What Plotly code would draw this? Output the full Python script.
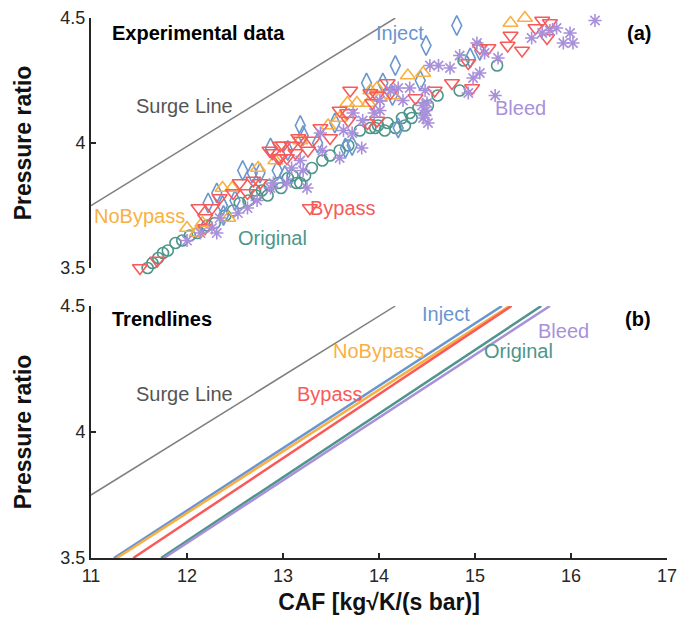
import plotly.graph_objects as go
from plotly.subplots import make_subplots

# ---------------- data ----------------
orig_x = [11.59, 11.64, 11.70, 11.75, 11.80, 11.88, 11.95, 12.03, 12.11, 12.21, 12.29, 12.40, 12.48, 12.55,
          12.64, 12.71, 12.72, 12.78, 12.84, 12.86, 12.95, 12.98, 13.05, 13.10, 13.14, 13.18, 13.23, 13.30,
          13.41, 13.49, 13.59, 13.68, 13.80, 13.91, 13.96, 13.99, 14.06, 14.09, 14.17, 14.24, 14.27, 14.32,
          14.34, 14.41, 14.51, 14.61, 14.84, 14.88, 15.23]
orig_y = [3.50, 3.52, 3.54, 3.56, 3.57, 3.60, 3.61, 3.63, 3.64, 3.67, 3.68, 3.71, 3.73, 3.76,
          3.77, 3.81, 3.79, 3.81, 3.79, 3.83, 3.84, 3.82, 3.86, 3.87, 3.84, 3.84, 3.87, 3.90,
          3.93, 3.95, 3.97, 3.99, 4.05, 4.06, 4.06, 4.07, 4.05, 4.08, 4.06, 4.10, 4.07, 4.12,
          4.10, 4.14, 4.15, 4.19, 4.21, 4.33, 4.31]

inject_x = [12.22, 12.31, 12.37, 12.38, 12.50, 12.58, 12.68, 12.76, 12.87, 12.94, 13.02, 13.05, 13.18, 13.21,
            13.36, 13.54, 13.65, 13.72, 13.87, 14.04, 14.14, 14.17, 14.20, 14.43, 14.49, 14.81, 14.95, 15.05]
inject_y = [3.76, 3.80, 3.75, 3.71, 3.77, 3.89, 3.88, 3.88, 3.98, 3.89, 3.87, 3.97, 4.07, 4.03,
            4.00, 4.08, 3.98, 3.99, 4.24, 4.24, 4.19, 4.31, 4.06, 4.25, 4.39, 4.47, 4.34, 4.37]

nobypass_x = [12.00, 12.10, 12.16, 12.37, 12.43, 12.47, 12.74, 12.92, 13.18, 13.47, 13.59, 13.67, 13.77,
              13.89, 13.91, 13.98, 14.01, 14.15, 14.30, 14.46, 15.37, 15.52]
nobypass_y = [3.66, 3.64, 3.68, 3.82, 3.70, 3.82, 3.90, 3.93, 4.01, 4.07, 4.10, 4.16, 4.16,
              4.16, 4.21, 4.22, 4.18, 4.19, 4.27, 4.28, 4.48, 4.50]

bypass_x = [11.51, 11.69, 12.12, 12.19, 12.19, 12.26, 12.34, 12.48, 12.55, 12.63, 12.69, 12.76, 12.86, 12.89,
            12.97, 12.97, 12.95, 13.00, 13.04, 13.09, 13.13, 13.16, 13.18, 13.26, 13.28, 13.31, 13.39, 13.49,
            13.59, 13.67, 13.68, 13.70, 13.88, 13.91, 13.93, 13.98, 13.98, 14.09, 14.12, 14.38, 14.58, 14.76,
            14.93, 14.97, 15.05, 15.14, 15.34, 15.37, 15.49, 15.63, 15.70, 15.75, 15.78]
bypass_y = [3.50, 3.53, 3.74, 3.70, 3.66, 3.74, 3.78, 3.80, 3.84, 3.80, 3.85, 3.84, 3.97, 3.96,
            3.99, 3.94, 3.94, 3.99, 3.94, 3.99, 3.96, 4.02, 4.01, 3.97, 3.74, 4.01, 4.06, 4.02,
            4.13, 4.12, 4.09, 4.21, 4.08, 4.20, 4.16, 4.19, 4.09, 4.24, 4.20, 4.18, 4.21, 4.24,
            4.32, 4.22, 4.38, 4.38, 4.39, 4.43, 4.37, 4.46, 4.49, 4.42, 4.48]

bleed_x = [12.00, 12.14, 12.26, 12.31, 12.34, 12.53, 12.63, 12.73, 12.87, 12.90, 13.04, 13.09, 13.18, 13.21,
           13.25, 13.39, 13.41, 13.59, 13.63, 13.72, 13.73, 13.82, 13.83, 13.95, 14.01, 14.01, 14.12, 14.20,
           14.25, 14.32, 14.45, 14.46, 14.48, 14.48, 14.49, 14.50, 14.51, 14.53, 14.62, 14.74, 14.84, 14.93,
           14.98, 15.02, 15.05, 15.10, 15.21, 15.24, 15.59, 15.70, 15.78, 15.85, 15.92, 15.99, 16.02, 16.25]
bleed_y = [3.61, 3.64, 3.66, 3.64, 3.70, 3.72, 3.74, 3.77, 3.82, 3.84, 3.84, 3.90, 3.93, 3.89,
           3.82, 4.04, 3.97, 3.94, 4.05, 4.04, 4.12, 3.98, 4.09, 4.12, 4.13, 4.17, 4.21, 4.22,
           4.17, 4.22, 4.15, 4.10, 4.21, 4.11, 4.13, 4.16, 4.08, 4.31, 4.31, 4.30, 4.35, 4.20,
           4.26, 4.40, 4.28, 4.36, 4.19, 4.34, 4.42, 4.44, 4.45, 4.46, 4.40, 4.44, 4.40, 4.49]

# trendlines (endpoints at PR = 3.5 and 4.5)
trend_names = ["Inject", "NoBypass", "Bypass", "Original", "Bleed"]
trend_x0 = [11.24, 11.27, 11.44, 11.73, 11.76]
trend_x1 = [15.28, 15.36, 15.38, 15.69, 15.78]
trend_y = [3.5, 4.5]

surge_x = [11.0, 14.17]
surge_y = [3.75, 4.5]

colors = {
    "Inject": "#6a96cf",
    "NoBypass": "#f9b042",
    "Bypass": "#f85a5a",
    "Original": "#4e958b",
    "Bleed": "#a990da",
}

# ---------------- figure ----------------
fig = make_subplots(rows=2, cols=1, shared_xaxes=False, vertical_spacing=0.07)

def sc(x, y, name, symbol, size=10):
    return go.Scatter(x=x, y=y, mode="markers", name=name, showlegend=False, cliponaxis=False,
                      marker=dict(symbol=symbol, size=size, color=colors[name],
                                  line=dict(color=colors[name], width=1.6)))

fig.add_trace(go.Scatter(x=surge_x, y=surge_y, mode="lines", showlegend=False,
                         line=dict(color="#808080", width=1.5)), row=1, col=1)
fig.add_trace(sc(orig_x, orig_y, "Original", "circle-open", 11), row=1, col=1)
fig.add_trace(sc(inject_x, inject_y, "Inject", "diamond-tall-open", 14), row=1, col=1)
fig.add_trace(sc(nobypass_x, nobypass_y, "NoBypass", "triangle-up-open", 13), row=1, col=1)
fig.add_trace(sc(bypass_x, bypass_y, "Bypass", "triangle-down-open", 13), row=1, col=1)
fig.add_trace(sc(bleed_x, bleed_y, "Bleed", "asterisk-open", 11), row=1, col=1)

fig.add_trace(go.Scatter(x=surge_x, y=surge_y, mode="lines", showlegend=False,
                         line=dict(color="#808080", width=1.5)), row=2, col=1)
for nm, a, b in zip(trend_names, trend_x0, trend_x1):
    fig.add_trace(go.Scatter(x=[a, b], y=trend_y, mode="lines", showlegend=False,
                             line=dict(color=colors[nm], width=2.5)), row=2, col=1)

FONT = "Liberation Sans, Arial, Helvetica, sans-serif"
axcol = "#262626"

common_y = dict(range=[3.5, 4.5], tickvals=[3.5, 4, 4.5], ticktext=["3.5", "4", "4.5"],
                showline=True, linecolor=axcol, linewidth=2, ticks="inside", ticklen=5,
                tickwidth=2, tickcolor=axcol, showgrid=False, zeroline=False, automargin=False,
                tickfont=dict(family=FONT, size=18, color=axcol),
                title=dict(text="<b>Pressure ratio</b>", font=dict(family=FONT, size=23, color="#111"),
                           standoff=22))

fig.update_yaxes(**common_y, domain=[0.537, 1.0], row=1, col=1)
fig.update_yaxes(**common_y, domain=[0.0, 0.4667], row=2, col=1)

fig.update_xaxes(range=[11, 17], showline=False, showticklabels=False, ticks="",
                 showgrid=False, zeroline=False, automargin=False, row=1, col=1)
fig.update_xaxes(range=[11, 17], tickvals=[11, 12, 13, 14, 15, 16, 17],
                 showline=True, linecolor=axcol, linewidth=2, ticks="inside", ticklen=5,
                 tickwidth=2, tickcolor=axcol, showgrid=False, zeroline=False, automargin=False,
                 tickfont=dict(family=FONT, size=18, color=axcol),
                 title=dict(text="<b>CAF [kg√K/(s bar)]</b>", font=dict(family=FONT, size=23, color="#111"),
                            standoff=9),
                 row=2, col=1)

def lab(text, x, y, color, ref, size=20, xanchor="center", bold=False):
    t = f"<b>{text}</b>" if bold else text
    fig.add_annotation(x=x, y=y, xref=ref[0], yref=ref[1], text=t, showarrow=False,
                       xanchor=xanchor, yanchor="middle",
                       font=dict(family=FONT, size=size, color=color))

r1 = ("x", "y")
r2 = ("x2", "y2")
lab("Experimental data", 11.2, 4.44, "#000", r1, size=20, xanchor="left", bold=True)
lab("(a)", 16.85, 4.44, "#000", r1, size=20, xanchor="right", bold=True)
lab("Surge Line", 11.97, 4.15, "#555", r1)
lab("Inject", 14.22, 4.44, colors["Inject"], r1)
lab("NoBypass", 11.51, 3.71, colors["NoBypass"], r1)
lab("Bypass", 13.62, 3.74, colors["Bypass"], r1)
lab("Original", 12.89, 3.62, colors["Original"], r1)
lab("Bleed", 15.47, 4.14, colors["Bleed"], r1)

lab("Trendlines", 11.2, 4.45, "#000", r2, size=20, xanchor="left", bold=True)
lab("(b)", 16.85, 4.45, "#000", r2, size=20, xanchor="right", bold=True)
lab("Surge Line", 11.97, 4.15, "#555", r2)
lab("Inject", 14.7, 4.47, colors["Inject"], r2)
lab("NoBypass", 13.99, 4.32, colors["NoBypass"], r2)
lab("Bypass", 13.49, 4.15, colors["Bypass"], r2)
lab("Original", 15.45, 4.32, colors["Original"], r2)
lab("Bleed", 15.92, 4.40, colors["Bleed"], r2)

fig.update_layout(width=679, height=619, margin=dict(l=91, r=12, t=18, b=61),
                  plot_bgcolor="white", paper_bgcolor="white", showlegend=False,
                  font=dict(family=FONT))

fig.write_html("out.html")
